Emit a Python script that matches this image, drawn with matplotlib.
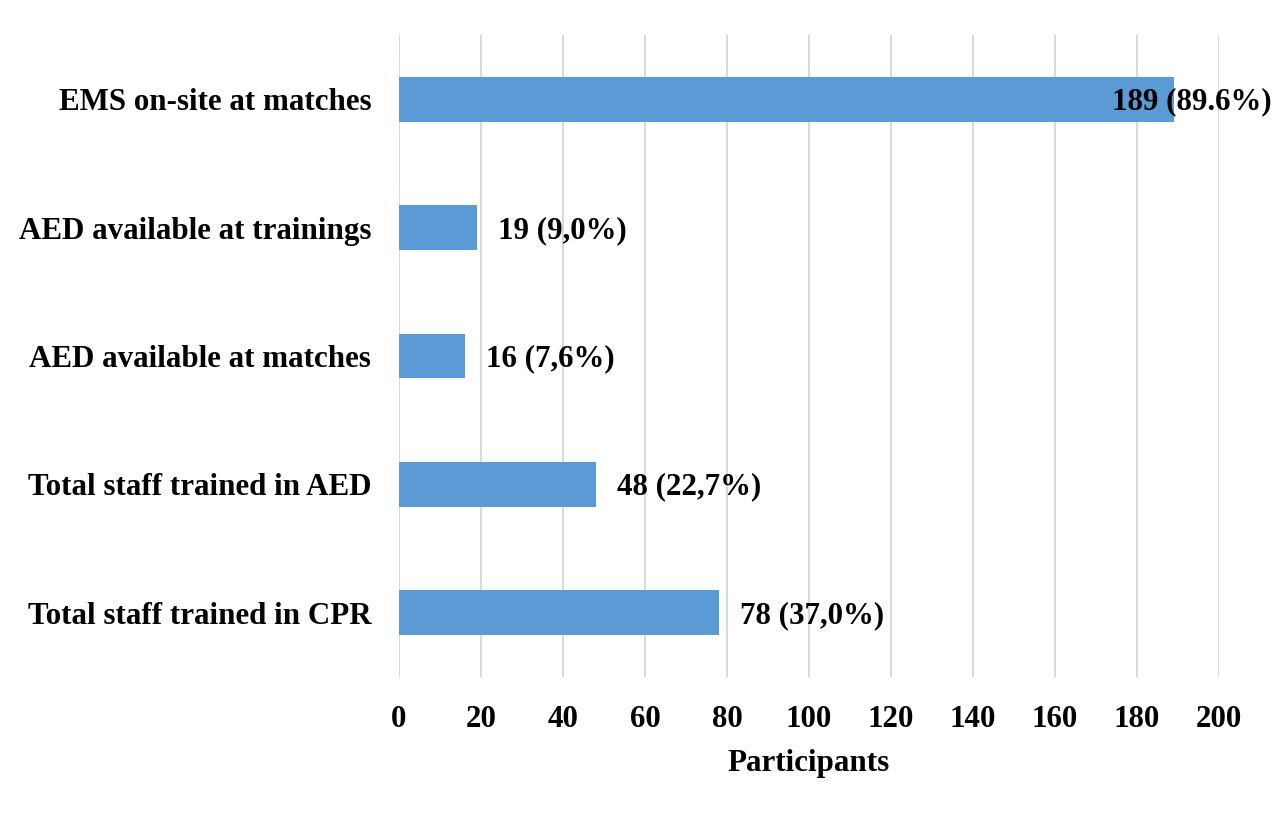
import matplotlib.pyplot as plt

# datos (de abajo hacia arriba)
categorias = ['Total staff trained in CPR', 'Total staff trained in AED',
              'AED available at matches', 'AED available at trainings',
              'EMS on-site at matches']
valores = [78, 48, 16, 19, 189]
etiquetas = ['78 (37,0%)', '48 (22,7%)', '16 (7,6%)', '19 (9,0%)', '189 (89.6%)']
ticks_x = list(range(0, 201, 20))

plt.rcParams['font.family'] = ['Liberation Serif', 'DejaVu Serif']
plt.rcParams['font.weight'] = 'bold'
fs = 22.3

fig = plt.figure(figsize=(12.8, 8.17), dpi=100)
ax = fig.add_axes([399/1280, 1-677/817, 820/1280, 642/817])

y = list(range(len(categorias)))
ax.barh(y, valores, height=0.35, color='#5B9BD5', zorder=3)

ax.set_xlim(0, 200)
ax.set_ylim(-0.5, 4.5)
ax.set_xticks(ticks_x)
ax.set_yticks(y)
ax.set_yticklabels(categorias)
ax.grid(axis='x', color='#D9D9D9', linewidth=1.5, zorder=0)
ax.grid(axis='y', visible=False)
for s in ax.spines.values():
    s.set_visible(False)
ax.tick_params(axis='both', length=0, labelsize=fs)
ax.tick_params(axis='x', pad=20)
ax.tick_params(axis='y', pad=20)
for lbl in ax.get_xticklabels() + ax.get_yticklabels():
    lbl.set_fontweight('bold')

ax.set_xlabel('Participants', fontsize=fs, fontweight='bold', labelpad=11)

# etiquetas de datos
for yi, v, t in zip(y, valores, etiquetas):
    if v > 150:
        off = -62
    else:
        off = 21
    ax.annotate(t, (v, yi), xytext=(off * 0.72, -2), textcoords='offset points',
                ha='left', va='center', fontsize=fs, fontweight='bold',
                zorder=4, annotation_clip=False)

fig.savefig('out.png', dpi=100)
